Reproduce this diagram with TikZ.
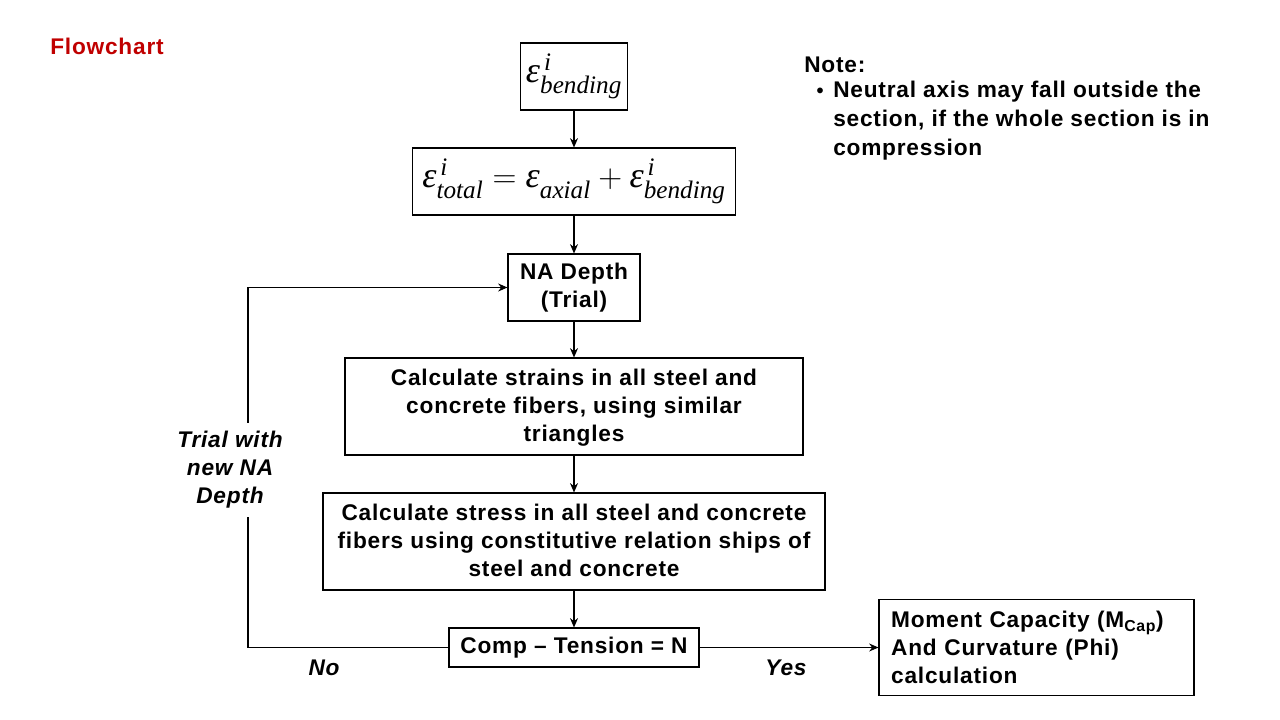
\documentclass[tikz,border=0pt]{standalone}
\usepackage{amsmath}
\usepackage{fontspec}
\setmainfont[LetterSpace=3.5]{Liberation Sans}
\newfontfamily\tms{Liberation Serif}
\usetikzlibrary{arrows.meta}
\definecolor{flowred}{RGB}{192,0,0}
\newcommand\eps[2]{\text{\tms\itshape ε}^{\,\text{\tms\itshape #1}}_{\text{\tms\itshape #2}}}
\begin{document}
\begin{tikzpicture}[x=0.75pt,y=-0.75pt,
    box/.style={draw,line width=0.8pt,align=center,inner sep=0pt,
      font=\fontsize{17}{21}\selectfont\bfseries},
    eqbox/.style={draw,line width=0.8pt,inner sep=0pt,font=\fontsize{27}{30}\selectfont},
    arr/.style={line width=0.8pt,-{Stealth[length=7pt,width=6pt]}},
    lbl/.style={font=\fontsize{17}{21}\selectfont\bfseries\itshape,align=center}]
  \useasboundingbox (0,0) rectangle (1280,720);
  \node[font=\fontsize{17}{21}\selectfont\bfseries,text=flowred] (title) at (107,46) {Flowchart};
  % main column
  \node[eqbox,minimum width=80.25pt,minimum height=50.25pt] (bend) at (574,76.5) {$\eps{i}{bending}$};
  \node[eqbox,minimum width=242.25pt,minimum height=50.25pt] (total) at (574,181.5)
    {$\eps{i}{total}=\eps{}{axial}+\eps{i}{bending}$};
  \node[box,minimum width=99pt,minimum height=50.25pt] (na) at (574,287.5) {NA Depth\\(Trial)};
  \node[box,minimum width=343.5pt,minimum height=72.75pt,text depth=2pt] (strain) at (574,406.5)
    {Calculate strains in all steel and\\concrete fibers, using similar\\triangles};
  \node[box,minimum width=376.5pt,minimum height=72.75pt,text depth=2pt] (stress) at (574,541.5)
    {Calculate stress in all steel and concrete\\fibers using constitutive relation ships of\\steel and concrete};
  \node[box,minimum width=187.5pt,minimum height=29.25pt] (comp) at (574,647.5) {Comp -- Tension = N};
  \node[box,minimum width=236.25pt,minimum height=72pt,align=left,text width=218pt,inner xsep=9pt]
    (moment) at (1036.5,647.5) {Moment Capacity (M\textsubscript{Cap})\\And Curvature (Phi)\\calculation};
  % connectors
  \draw[arr] (bend.south) -- (total.north);
  \draw[arr] (total.south) -- (na.north);
  \draw[arr] (na.south) -- (strain.north);
  \draw[arr] (strain.south) -- (stress.north);
  \draw[arr] (stress.south) -- (comp.north);
  \draw[arr] (comp.east) -- (moment.west);
  \coordinate (loopdn) at (248,647.5);
  \coordinate (loopup) at (248,287.5);
  \draw[arr] (comp.west) -- (loopdn) -- (loopup) -- (na.west);
  \node[lbl,fill=white,inner sep=6pt] (retry) at (230,470) {Trial with\\new NA\\Depth};
  \node[lbl] (no) at (324,668) {No};
  \node[lbl] (yes) at (786,668) {Yes};
  % note
  \node[font=\fontsize{17}{21}\selectfont\bfseries,anchor=west,inner sep=0pt] (note) at (804,65) {Note:};
  \node[font=\fontsize{15}{21}\selectfont\bfseries] (dot) at (820,93) {•};
  \node[font=\fontsize{17}{21.75}\selectfont\bfseries,anchor=north west,align=left,inner sep=0pt] (notetxt) at (833,81)
    {Neutral axis may fall outside the\\section, if the whole section is in\\compression};
\end{tikzpicture}
\end{document}
